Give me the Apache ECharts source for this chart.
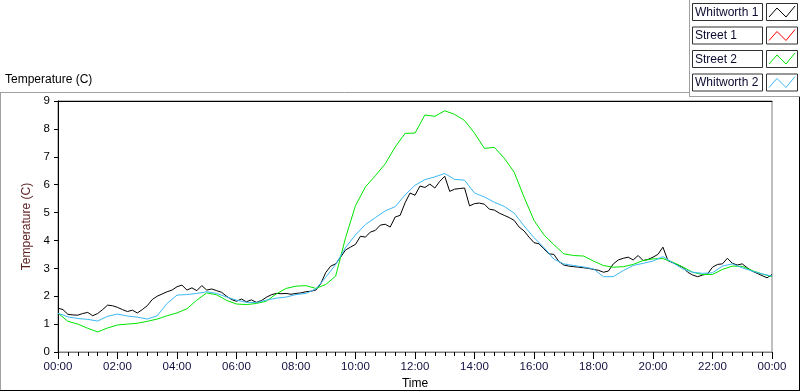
<!DOCTYPE html>
<html><head><meta charset="utf-8">
<script src="https://cdn.jsdelivr.net/npm/echarts@6/dist/echarts.min.js"></script>
<style>html,body{margin:0;padding:0;background:#fff}#c{width:800px;height:392px}</style>
</head><body><div id="c"></div>
<script>
// ---- data ----
const seriesNames = ['Whitworth 1', 'Street 1', 'Street 2', 'Whitworth 2'];
const seriesColors = ['#000000', '#ff0000', '#00e600', '#3cb8f5'];
const xTickLabels = ['00:00','02:00','04:00','06:00','08:00','10:00','12:00','14:00','16:00','18:00','20:00','22:00','00:00'];
const yTickValues = [0,1,2,3,4,5,6,7,8,9];

// Whitworth 1: one reading every 10 minutes from 00:00
const whitworth1StepMin = 10;
const whitworth1 = [
  1.57, 1.52, 1.35, 1.33, 1.32, 1.38,
  1.42, 1.30, 1.38, 1.52, 1.68, 1.66,
  1.60, 1.52, 1.45, 1.50, 1.40, 1.52,
  1.66, 1.88, 2.00, 2.08, 2.16, 2.22,
  2.34, 2.40, 2.22, 2.30, 2.20, 2.38,
  2.22, 2.26, 2.20, 2.14, 2.00, 1.88,
  1.82, 1.90, 1.80, 1.87, 1.78, 1.84,
  1.96, 2.05, 2.10, 2.09, 2.10, 2.07,
  2.10, 2.12, 2.16, 2.18, 2.22, 2.45,
  2.85, 3.08, 3.16, 3.40, 3.66, 3.76,
  3.86, 4.15, 4.12, 4.30, 4.36, 4.55,
  4.58, 4.48, 4.84, 4.90, 5.35, 5.70,
  5.62, 5.95, 5.90, 6.02, 5.88, 6.12,
  6.30, 5.76, 5.84, 5.86, 5.88, 5.24,
  5.32, 5.34, 5.30, 5.12, 5.09, 4.98,
  4.90, 4.82, 4.72, 4.48, 4.34, 4.12,
  3.92, 3.88, 3.70, 3.52, 3.50, 3.25,
  3.12, 3.08, 3.06, 3.04, 3.02, 3.00,
  2.96, 2.93, 2.86, 2.90, 3.16, 3.30,
  3.36, 3.40, 3.30, 3.46, 3.28, 3.32,
  3.40, 3.50, 3.76, 3.28, 3.20, 3.12,
  3.04, 2.86, 2.76, 2.70, 2.76, 2.80,
  3.04, 3.14, 3.16, 3.36, 3.18, 3.12,
  3.16, 3.02, 2.90, 2.82, 2.74, 2.66,
  2.78
];

// Street 1: no readings shown in the plot
const street1StepMin = 20;
const street1 = [];

// Street 2 and Whitworth 2: one reading every 20 minutes from 00:00
const street2StepMin = 20;
const street2 = [
  1.39, 1.10, 1.00, 0.85, 0.72, 0.86,
  0.97, 1.00, 1.03, 1.10, 1.18, 1.30,
  1.40, 1.55, 1.86, 2.12, 2.05, 1.85,
  1.72, 1.70, 1.74, 1.82, 2.08, 2.28,
  2.36, 2.38, 2.28, 2.42, 2.72, 4.10,
  5.25, 5.92, 6.32, 6.75, 7.35, 7.84,
  7.85, 8.50, 8.45, 8.65, 8.52, 8.30,
  7.85, 7.30, 7.34, 6.95, 6.45, 5.55,
  4.72, 4.20, 3.85, 3.52, 3.46, 3.44,
  3.26, 3.10, 3.04, 3.06, 3.14, 3.28,
  3.34, 3.35, 3.22, 3.05, 2.86, 2.78,
  2.78, 2.96, 3.08, 3.07, 2.92, 2.80,
  2.70
];

const whitworth2StepMin = 20;
const whitworth2 = [
  1.39, 1.26, 1.20, 1.17, 1.11, 1.28,
  1.36, 1.29, 1.25, 1.18, 1.30, 1.74,
  2.04, 2.06, 2.10, 2.16, 2.10, 1.97,
  1.86, 1.78, 1.77, 1.86, 1.93, 1.97,
  2.06, 2.10, 2.26, 2.68, 3.14, 3.75,
  4.20, 4.57, 4.82, 5.06, 5.21, 5.63,
  5.98, 6.18, 6.28, 6.40, 6.19, 6.16,
  5.70, 5.56, 5.37, 5.22, 4.98, 4.52,
  4.10, 3.75, 3.33, 3.16, 3.10, 3.05,
  2.98, 2.70, 2.70, 2.92, 3.10, 3.18,
  3.26, 3.42, 3.20, 2.98, 2.86, 2.82,
  2.84, 3.08, 3.16, 3.02, 2.90, 2.80,
  2.72
];

// ---- chart ----
function pairs(vals, step) { return vals.map((v, i) => [i * step, v]); }
const allVals = [whitworth1, street1, street2, whitworth2];
const allSteps = [whitworth1StepMin, street1StepMin, street2StepMin, whitworth2StepMin];

const FONT = 'Liberation Sans';
const chart = echarts.init(document.getElementById('c'), null, {renderer: 'canvas'});

const legendGraphics = [];
const rowTops = [3, 26.5, 50, 73.5];
seriesNames.forEach((name, i) => {
  const y0 = rowTops[i];
  legendGraphics.push({
    type: 'rect', shape: {x: 692.5, y: y0 + 0.5, width: 70, height: 17},
    style: {fill: '#fff', stroke: '#303030', lineWidth: 1}
  });
  legendGraphics.push({
    type: 'text', x: 695, y: y0 + 9.5,
    style: {text: name, font: '12px "' + FONT + '"', fill: '#0a0a30', verticalAlign: 'middle'}
  });
  legendGraphics.push({
    type: 'rect', shape: {x: 766.5, y: y0 + 0.5, width: 31, height: 17},
    style: {fill: '#fff', stroke: '#303030', lineWidth: 1}
  });
  const x0 = 766;
  legendGraphics.push({
    type: 'polyline',
    shape: {points: [[x0 + 3, y0 + 14], [x0 + 11, y0 + 5], [x0 + 20, y0 + 14], [x0 + 29, y0 + 3]]},
    style: {stroke: seriesColors[i], lineWidth: 1, fill: null}
  });
});

const option = {
  animation: false,
  backgroundColor: '#ffffff',
  textStyle: {fontFamily: FONT},
  grid: {left: 58, right: 28, top: 101, bottom: 40, show: true, borderColor: '#808080', borderWidth: 1,
    containLabel: false, outerBoundsMode: 'none'},
  xAxis: [{
    type: 'value', min: 0, max: 1440, interval: 120,
    name: 'Time', nameLocation: 'middle', nameGap: 26,
    nameTextStyle: {color: '#000000', fontSize: 12, fontFamily: FONT},
    axisLine: {show: true, lineStyle: {color: '#808080', width: 1}},
    axisTick: {show: true, length: 7, inside: false, lineStyle: {color: '#000'}},
    minorTick: {show: true, splitNumber: 6, length: 4, lineStyle: {color: '#000'}},
    axisLabel: {
      margin: 9, fontSize: 11.5, color: '#101040', fontFamily: FONT,
      formatter: v => xTickLabels[Math.round(v / 120)], showMinLabel: true, showMaxLabel: true
    },
    splitLine: {show: false}, minorSplitLine: {show: false}
  }, {
    type: 'value', min: 0, max: 1440, position: 'top',
    axisLine: {show: true, lineStyle: {color: '#000', width: 1}},
    axisTick: {show: false}, axisLabel: {show: false}, splitLine: {show: false}
  }],
  yAxis: {
    type: 'value', min: 0, max: 9, interval: 1,
    name: 'Temperature (C)', nameLocation: 'middle', nameGap: 18,
    nameTextStyle: {color: '#5a1e1e', fontSize: 12, fontFamily: FONT},
    axisLine: {show: true, lineStyle: {color: '#000', width: 1}},
    axisTick: {show: true, length: 4, lineStyle: {color: '#000'}},
    axisLabel: {margin: 8, fontSize: 11.5, color: '#000', fontFamily: FONT,
      formatter: v => yTickValues.indexOf(v) >= 0 ? String(v) : ''},
    splitLine: {show: false}
  },
  series: seriesNames.map((name, i) => ({
    name, type: 'line', xAxisIndex: 0, yAxisIndex: 0,
    data: pairs(allVals[i], allSteps[i]),
    showSymbol: false, symbol: 'none', smooth: false,
    lineStyle: {color: seriesColors[i], width: 1},
    itemStyle: {color: seriesColors[i]},
    emphasis: {disabled: true}
  })),
  graphic: [
    {type: 'text', x: 5, y: 80, style: {text: 'Temperature (C)', font: '12px "' + FONT + '"', fill: '#000', verticalAlign: 'middle'}},
    {type: 'line', shape: {x1: 0, y1: 92.5, x2: 689, y2: 92.5}, style: {stroke: '#a0a0a0', lineWidth: 1}},
    {type: 'line', shape: {x1: 0.5, y1: 92, x2: 0.5, y2: 391}, style: {stroke: '#a0a0a0', lineWidth: 1}},
    {type: 'line', shape: {x1: 0, y1: 390.5, x2: 800, y2: 390.5}, style: {stroke: '#000', lineWidth: 1}},
    {type: 'line', shape: {x1: 799.5, y1: 96, x2: 799.5, y2: 391}, style: {stroke: '#000', lineWidth: 1}},
    {type: 'line', shape: {x1: 689.5, y1: 0, x2: 689.5, y2: 97}, style: {stroke: '#a0a0a0', lineWidth: 1}},
    {type: 'line', shape: {x1: 689, y1: 96.5, x2: 800, y2: 96.5}, style: {stroke: '#a0a0a0', lineWidth: 1}}
  ].concat(legendGraphics)
};
chart.setOption(option);
</script>
</body></html>
